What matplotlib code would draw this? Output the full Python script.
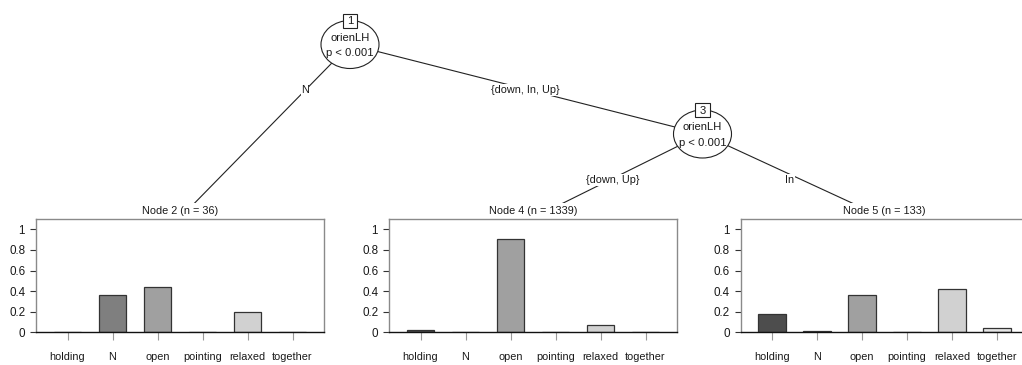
import matplotlib
matplotlib.use("Agg")
import matplotlib.pyplot as plt
from matplotlib.patches import Ellipse, Rectangle

# Response classes and class proportions in each terminal node
categories = ["holding", "N", "open", "pointing", "relaxed", "together"]
node2_props = [0.0, 0.361, 0.444, 0.0, 0.194, 0.0]
node4_props = [0.024, 0.0, 0.907, 0.0, 0.069, 0.0]
node5_props = [0.173, 0.008, 0.361, 0.0, 0.421, 0.038]
node_titles = ["Node 2 (n = 36)", "Node 4 (n = 1339)", "Node 5 (n = 133)"]
y_ticks = [0, 0.2, 0.4, 0.6, 0.8, 1]
y_tick_labels = ["0", "0.2", "0.4", "0.6", "0.8", "1"]

# Inner nodes and edge labels
inner_ids = ["1", "3"]
inner_vars = ["orienLH", "orienLH"]
inner_pvals = ["p < 0.001", "p < 0.001"]
edge_labels = ["N", "{down, In, Up}", "{down, Up}", "In"]

bar_colors = ["#4d4d4d", "#7f7f7f", "#a0a0a0", "#bbbbbb", "#d1d1d1", "#e6e6e6"]

plt.rcParams["font.family"] = ["Liberation Sans", "DejaVu Sans"]
FS = 7.8
TXT = "#1a1a1a"

W, H = 1022, 365
fig = plt.figure(figsize=(W / 100, H / 100), dpi=100)

# Pixel-space canvas for the tree skeleton
canvas = fig.add_axes([0, 0, 1, 1])
canvas.set_xlim(0, W)
canvas.set_ylim(H, 0)
canvas.axis("off")

# layout (pixels)
inner_xy = [(350, 44.5), (702.5, 134)]
panel_left = [36, 389, 740.5]
panel_w = 288
box_top, box_bot = 219, 332.3
title_y = 211.5
panel_cx = [l + panel_w / 2 for l in panel_left]
child_target_y = 218

# edges: (parent, child target x)
edges = [(0, panel_cx[0]), (0, None), (1, panel_cx[1]), (1, panel_cx[2])]
edge_label_xy = [(305, 90), (525, 90), (613, 180), (790, 180)]

for (pi, cx), lab, (lx, ly) in zip(edges, edge_labels, edge_label_xy):
    px, py = inner_xy[pi]
    if cx is None:
        tx, ty = inner_xy[1]
    else:
        tx, ty = cx, child_target_y
    canvas.plot([px, tx], [py, ty], color="#222222", lw=0.8, zorder=1,
                solid_capstyle="butt")
    canvas.text(lx, ly, lab, ha="center", va="center", fontsize=FS,
                color=TXT, zorder=3,
                bbox=dict(boxstyle="square,pad=0.05", fc="white", ec="none"))

# white backing for terminal panels (covers ends of edges)
for l in panel_left:
    canvas.add_patch(Rectangle((l - 40, 203), panel_w + 50, H - 203,
                               fc="white", ec="none", zorder=2))

for (x, y), nid, var, pv in zip(inner_xy, inner_ids, inner_vars, inner_pvals):
    canvas.add_patch(Ellipse((x, y), 58, 48, fc="white", ec="#222222",
                             lw=0.8, zorder=4))
    canvas.text(x, y - 6.5, var, ha="center", va="center", fontsize=FS + 0.3,
                color=TXT, zorder=5)
    canvas.text(x, y + 8.5, pv, ha="center", va="center", fontsize=FS + 0.3,
                color=TXT, zorder=5)
    canvas.add_patch(Rectangle((x - 7.2, y - 24 - 7), 14.4, 14, fc="white",
                               ec="#222222", lw=0.8, zorder=6))
    canvas.text(x, y - 23.5, nid, ha="center", va="center", fontsize=FS + 0.3,
                color=TXT, zorder=7)

for cx, t in zip(panel_cx, node_titles):
    canvas.text(cx, title_y, t, ha="center", va="center", fontsize=FS,
                color=TXT, zorder=5)

# terminal bar plots
x_pos = list(range(len(categories)))
for l, props in zip(panel_left, [node2_props, node4_props, node5_props]):
    ax = fig.add_axes([l / W, 1 - box_bot / H, panel_w / W, (box_bot - box_top) / H])
    ax.bar(x_pos, props, width=0.62, color=bar_colors, edgecolor="#333333",
           linewidth=0.9)
    ax.set_xlim(-0.7, 5.7)
    ax.set_ylim(0, 1.1)
    ax.set_yticks(y_ticks)
    ax.set_yticklabels(y_tick_labels, fontsize=FS + 0.6, color=TXT)
    ax.set_xticks(x_pos)
    ax.set_xticklabels(categories, fontsize=FS, color=TXT)
    ax.tick_params(axis="y", length=4.3, width=0.8, color="#333333", pad=3.5)
    ax.tick_params(axis="x", length=5.5, width=0.8, color="#999999", pad=8.5)
    for s in ["top", "left", "right"]:
        ax.spines[s].set_color("#8a8a8a")
        ax.spines[s].set_linewidth(1.0)
    ax.spines["bottom"].set_color("#111111")
    ax.spines["bottom"].set_linewidth(1.0)
    ax.set_facecolor("none")

fig.savefig("out.png", dpi=100, facecolor="white")
